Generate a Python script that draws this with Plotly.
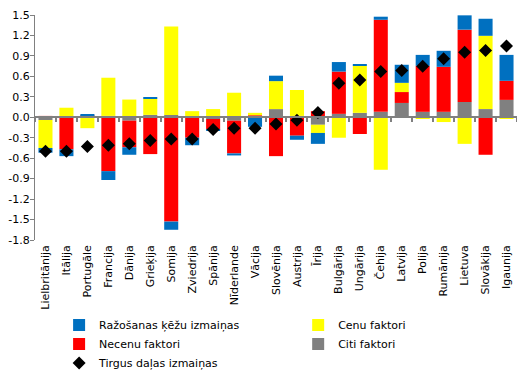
import plotly.graph_objects as go

countries = ["Lielbritānija", "Itālija", "Portugāle", "Francija", "Dānija", "Grieķija",
             "Somija", "Zviedrija", "Spānija", "Nīderlande", "Vācija", "Slovēnija",
             "Austrija", "Īrija", "Bulgārija", "Ungārija", "Čehija", "Latvija",
             "Polija", "Rumānija", "Lietuva", "Slovākija", "Igaunija"]

citi = [-0.04, 0.0, 0.0, 0.02, -0.05, 0.035, 0.035, 0.0, -0.025, -0.05, 0.0, 0.12,
        0.02, -0.11, 0.05, 0.065, 0.08, 0.21, 0.08, 0.08, 0.225, 0.12, 0.255]
necenu = [0.02, -0.47, 0.03, -0.79, -0.39, -0.54, -1.53, -0.30, -0.155, -0.48, 0.03, -0.57,
          -0.27, 0.09, 0.62, -0.245, 1.35, 0.16, 0.675, 0.66, 1.06, -0.55, 0.28]
cenu = [-0.41, 0.14, -0.16, 0.56, 0.26, 0.235, 1.295, 0.09, 0.12, 0.36, 0.035, 0.41,
        0.38, -0.12, -0.30, 0.69, -0.77, 0.135, -0.025, -0.07, -0.39, 1.075, -0.025]
razosanas = [-0.07, -0.10, 0.01, -0.13, -0.11, 0.015, -0.12, -0.11, -0.015, -0.03, -0.14, 0.08,
             -0.06, -0.16, 0.14, 0.025, 0.045, 0.265, 0.16, 0.235, 0.21, 0.25, 0.38]
tirgus = [-0.50, -0.50, -0.43, -0.41, -0.39, -0.34, -0.32, -0.32, -0.18, -0.16, -0.16, -0.10,
          -0.045, 0.07, 0.50, 0.545, 0.67, 0.685, 0.75, 0.86, 0.955, 0.98, 1.045]

ytick_vals = [-1.8, -1.5, -1.2, -0.9, -0.6, -0.3, 0.0, 0.3, 0.6, 0.9, 1.2, 1.5]
ytick_text = ["-1.8", "-1.5", "-1.2", "-0.9", "-0.6", "-0.3", "0.0", "0.3", "0.6", "0.9",
              "1.2", "1.5"]

FONT = "DejaVu Sans"

fig = go.Figure()
fig.add_trace(go.Bar(x=countries, y=citi, name="Citi faktori", marker_color="#808080",
                     marker_line_width=0, legend="legend2", legendrank=2))
fig.add_trace(go.Bar(x=countries, y=necenu, name="Necenu faktori", marker_color="#FF0000",
                     marker_line_width=0, legend="legend", legendrank=2))
fig.add_trace(go.Bar(x=countries, y=cenu, name="Cenu faktori", marker_color="#FFFF00",
                     marker_line_width=0, legend="legend2", legendrank=1))
fig.add_trace(go.Bar(x=countries, y=razosanas, name="Ražošanas ķēžu izmaiņas",
                     marker_color="#0070C0", marker_line_width=0, legend="legend",
                     legendrank=1))
fig.add_trace(go.Scatter(x=countries, y=tirgus, name="Tirgus daļas izmaiņas", mode="markers",
                         marker=dict(symbol="diamond", size=10, color="black"),
                         legend="legend", legendrank=3))
# helper trace to define categories on the zero-line axis
fig.add_trace(go.Scatter(x=countries, y=[0] * len(countries), xaxis="x2", mode="markers",
                         marker=dict(opacity=0), showlegend=False, hoverinfo="skip"))

ymin, ymax = -1.8, 1.5
legend_common = dict(orientation="v", xanchor="left", yanchor="top",
                     font=dict(family=FONT, size=11, color="black"),
                     traceorder="normal", itemwidth=30, bgcolor="rgba(0,0,0,0)")
fig.update_layout(
    width=509, height=369,
    margin=dict(l=27, r=0, t=7, b=137, autoexpand=False),
    paper_bgcolor="white", plot_bgcolor="white",
    barmode="relative", bargap=0.33,
    font=dict(family=FONT, size=11, color="black"),
    showlegend=True,
    legend=dict(x=0.05, y=-0.313, **legend_common),
    legend2=dict(x=0.546, y=-0.313, **legend_common),
    xaxis=dict(type="category", tickangle=-90, showline=False, ticks="", showgrid=False,
               automargin=False, ticklabelstandoff=2,
               tickfont=dict(family=FONT, size=11, color="black"), range=[-0.5, 22.5]),
    xaxis2=dict(type="category", overlaying="x", anchor="free",
                position=(0 - ymin) / (ymax - ymin), showline=True, linecolor="#808080",
                linewidth=2, ticks="outside", ticklen=4, tickcolor="#808080", tickwidth=2,
                tickson="boundaries", showticklabels=False, showgrid=False,
                range=[-0.5, 22.5], side="bottom", automargin=False),
    yaxis=dict(range=[ymin, ymax], tickmode="array", tickvals=ytick_vals,
               ticktext=ytick_text, showgrid=False,
               zeroline=False, showline=True, linecolor="#808080", linewidth=1,
               ticks="outside", ticklen=4, tickcolor="#808080", automargin=False,
               ticklabelstandoff=-2,
               tickfont=dict(family=FONT, size=11, color="black")),
)

fig.write_html("out.html")
